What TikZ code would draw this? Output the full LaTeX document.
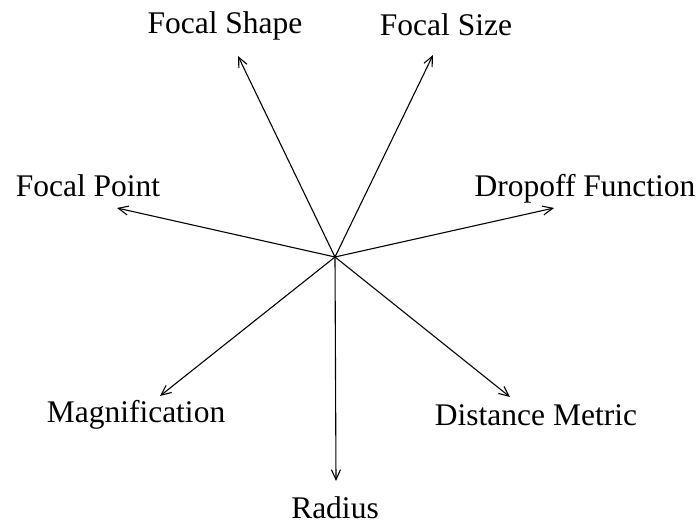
\documentclass[tikz,border=0pt]{standalone}
\usepackage{fontspec}
\setmainfont{Liberation Serif}
\usetikzlibrary{arrows.meta}
\begin{document}
\begin{tikzpicture}[x=1pt,y=-1pt,
  lbl/.style={anchor=base,inner sep=0pt,font=\fontsize{31.5}{36}\selectfont},
  ray/.style={line width=1.1pt,-{Straight Barb[length=10pt,width=9pt,line width=1.1pt]}}]
\useasboundingbox (0,0) rectangle (699,526);
\coordinate (c) at (335,257);
\coordinate (tShape) at (238,56);
\coordinate (tSize) at (433,55);
\coordinate (tPoint) at (117,208);
\coordinate (tDrop) at (554,208);
\coordinate (tMag) at (160,396);
\coordinate (tDist) at (510,397);
\coordinate (tRad) at (336,481);
\node[lbl] (lShape) at (225,34) {Focal Shape};
\node[lbl] (lSize) at (446,36) {Focal Size};
\node[lbl] (lPoint) at (88,197) {Focal Point};
\node[lbl] (lDrop) at (585,197) {Dropoff Function};
\node[lbl] (lMag) at (136,423) {Magnification};
\node[lbl] (lDist) at (536,426) {Distance Metric};
\node[lbl] (lRad) at (335,518) {Radius};
\foreach \t in {tShape,tSize,tPoint,tDrop,tMag,tDist,tRad}
  \draw[ray] (c) -- (\t);
\end{tikzpicture}
\end{document}
